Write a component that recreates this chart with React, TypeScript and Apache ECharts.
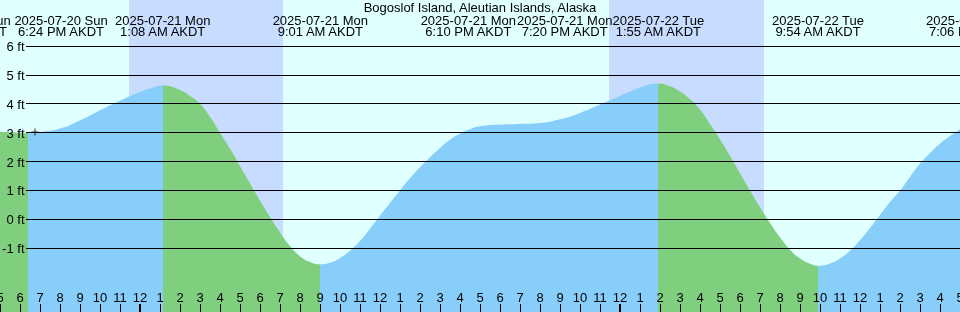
import { useEffect, useRef } from 'react';
import * as echarts from 'echarts';

// ---------- data ----------
const TITLE = 'Bogoslof Island, Aleutian Islands, Alaska';
const TZ = 'AKDT';
// x axis: hours after 2025-07-20 5:00 PM AKDT
const START_DAY = 20;
const START_CLOCK_HOUR = 17;
const SPAN_HOURS = 48;

// tide height samples (hours after start, feet)
const sampleHours = [
  0, 1, 1.4, 2, 3, 4, 5, 6, 7, 7.5, 8.13,
  8.5, 9, 9.5, 10, 10.5, 11, 11.5, 12, 12.5, 13, 13.5, 14, 14.5, 15, 15.5, 16.02,
  16.5, 17, 17.5, 18, 18.5, 19, 19.5, 20, 20.5, 21, 21.5, 22, 22.5, 23, 23.5, 24,
  25, 26, 27, 28, 29, 30, 30.5, 31, 31.5, 32, 32.5, 32.92,
  33.5, 34, 34.5, 35, 35.5, 36, 36.5, 37, 37.5, 38, 38.5, 39, 39.5, 40, 40.5, 40.9,
  41.5, 42, 42.5, 43, 43.5, 44, 44.5, 45, 45.5, 46, 46.5, 47, 47.5, 48,
];
const sampleFeet = [
  3.03, 3.0, 2.99, 3.02, 3.14, 3.42, 3.77, 4.1, 4.41, 4.53, 4.63,
  4.6, 4.47, 4.27, 4.0, 3.55, 3.0, 2.45, 1.85, 1.25, 0.65, 0.08, -0.45, -0.92, -1.27, -1.47, -1.55,
  -1.5, -1.33, -1.08, -0.75, -0.32, 0.13, 0.57, 1.0, 1.42, 1.8, 2.15, 2.47, 2.75, 2.97, 3.12, 3.22,
  3.28, 3.3, 3.33, 3.46, 3.68, 3.97, 4.12, 4.27, 4.42, 4.56, 4.66, 4.7,
  4.6, 4.42, 4.15, 3.8, 3.3, 2.77, 2.2, 1.6, 1.0, 0.42, -0.12, -0.62, -1.05, -1.35, -1.53, -1.6,
  -1.52, -1.35, -1.08, -0.72, -0.3, 0.15, 0.6, 1.0, 1.47, 1.93, 2.3, 2.62, 2.88, 3.12,
];

// events shown along the top
const eventDays = ['2025-07-20 Sun', '2025-07-20 Sun', '2025-07-21 Mon', '2025-07-21 Mon', '2025-07-21 Mon', '2025-07-21 Mon', '2025-07-22 Tue', '2025-07-22 Tue', '2025-07-22 Tue'];
const eventTimes = ['5:00 PM', '6:24 PM', '1:08 AM', '9:01 AM', '6:10 PM', '7:20 PM', '1:55 AM', '9:54 AM', '7:06 PM'];
const eventKinds = ['high', 'low', 'high', 'low', 'other', 'other', 'high', 'low', 'other'];

// night periods
const nightStartDays = ['2025-07-20 Sun', '2025-07-21 Mon'];
const nightStartTimes = ['11:27 PM', '11:27 PM'];
const nightEndDays = ['2025-07-21 Mon', '2025-07-22 Tue'];
const nightEndTimes = ['7:09 AM', '7:12 AM'];

// "now" mark
const markDay = '2025-07-20 Sun';
const markTime = '6:45 PM';
const markFeet = 3.02;

// horizontal reference levels (ft)
const feetLevels = [-1, 0, 1, 2, 3, 4, 5, 6];

// ---------- layout / style ----------
const Y_MIN = -3.2;
const Y_MAX = 7.585;
const LABEL_SHIFT = [-36, 33, 0, 0, -35, 38, 0, 0, -30];
const FONT = '"Liberation Sans", Arial, sans-serif';
const DAY_BG = '#e0ffff';
const NIGHT_BG = '#c8dcff';
const RISING = '#87cefa';
const FALLING = '#7fcf7f';

function toHour(day: string, time: string): number {
  const d = parseInt(day.slice(8, 10), 10);
  const m = time.match(/(\d+):(\d+) (AM|PM)/)!;
  let hh = parseInt(m[1], 10) % 12;
  if (m[3] === 'PM') hh += 12;
  return (d - START_DAY) * 24 + hh + parseInt(m[2], 10) / 60 - START_CLOCK_HOUR;
}

export default function App() {
  const ref = useRef<HTMLDivElement>(null);

  useEffect(() => {
    const chart = echarts.init(ref.current!, undefined, { renderer: 'svg' });

    const eventHours = eventDays.map((d, i) => toHour(d, eventTimes[i]));
    const extremes = eventHours
      .map((h, i) => ({ h, kind: eventKinds[i] }))
      .filter((e) => e.kind !== 'other' && e.h > 0 && e.h < SPAN_HOURS)
      .sort((a, b) => a.h - b.h);

    const pieces: any[] = [];
    const bounds = [0, ...extremes.map((e) => e.h), SPAN_HOURS];
    for (let i = 0; i < bounds.length - 1; i++) {
      let color;
      if (i < extremes.length) color = extremes[i].kind === 'low' ? FALLING : RISING;
      else color = extremes[extremes.length - 1].kind === 'high' ? FALLING : RISING;
      const p: any = { gte: bounds[i], color };
      if (i === bounds.length - 2) p.lte = bounds[i + 1];
      else p.lt = bounds[i + 1];
      pieces.push(p);
    }

    const nights = nightStartDays.map((d, i) => [
      { xAxis: toHour(d, nightStartTimes[i]) },
      { xAxis: toHour(nightEndDays[i], nightEndTimes[i]) },
    ]);

    const pxPerFt = 312 / (Y_MAX - Y_MIN);
    const midnights: number[] = [];
    for (let h = 0; h <= SPAN_HOURS; h++) if ((START_CLOCK_HOUR + h) % 24 === 0) midnights.push(h);

    const tideData = sampleHours.map((h, i) => [h, sampleFeet[i]]);

    chart.setOption({
      animation: false,
      grid: {
        left: 0, right: 0, top: 0, bottom: 0,
        containLabel: false,
        outerBoundsMode: 'none',
        show: true, backgroundColor: DAY_BG, borderWidth: 0,
      },
      xAxis: {
        type: 'value',
        min: 0,
        max: SPAN_HOURS,
        interval: 1,
        z: 10,
        axisLine: { show: false, onZero: false },
        splitLine: { show: false },
        axisTick: { show: true, inside: true, length: 8, lineStyle: { color: '#000', width: 1 } },
        axisLabel: {
          show: true,
          inside: true,
          margin: 15,
          verticalAlign: 'middle',
          color: '#000',
          fontSize: 13,
          fontFamily: FONT,
          showMinLabel: true,
          showMaxLabel: true,
          hideOverlap: false,
          formatter: (v: number) => String(((START_CLOCK_HOUR + v) % 12) || 12),
        },
      },
      yAxis: { type: 'value', min: Y_MIN, max: Y_MAX, show: false, splitLine: { show: false } },
      visualMap: { show: false, type: 'piecewise', dimension: 0, seriesIndex: 1, pieces },
      series: [
        {
          type: 'line',
          z: 1,
          data: tideData,
          symbol: 'none',
          silent: true,
          lineStyle: { opacity: 0, width: 0 },
          markArea: { silent: true, itemStyle: { color: NIGHT_BG }, data: nights },
          markLine: {
            silent: true,
            symbol: ['none', 'none'],
            label: { show: false },
            lineStyle: { color: '#000', width: 1, type: 'solid' },
            data: feetLevels.map((v) => [{ coord: [1.3, v] }, { coord: [SPAN_HOURS, v] }]),
          },
        },
        {
          type: 'line',
          z: 2,
          data: tideData,
          smooth: true,
          symbol: 'none',
          silent: true,
          lineStyle: { width: 0 },
          areaStyle: { opacity: 1, origin: 'start' },
        },
        {
          type: 'scatter',
          z: 3,
          silent: true,
          data: [[toHour(markDay, markTime), markFeet]],
          symbol: 'path://M0,3H7V4H0ZM3,0H4V7H3Z',
          symbolSize: 7,
          itemStyle: { color: '#000' },
          markLine: {
            silent: true,
            symbol: ['none', 'none'],
            label: { show: false },
            lineStyle: { color: '#000', width: 2, type: 'solid' },
            data: midnights.map((h) => [{ coord: [h, Y_MIN] }, { coord: [h, Y_MIN + 8 / pxPerFt] }]),
          },
        },
      ],
    });

    const px = (h: number, v: number) => chart.convertToPixel({ gridIndex: 0 }, [h, v]) as number[];
    const textStyle = { fill: '#000', fontSize: 13, fontFamily: FONT, lineHeight: 11 };
    const graphics: any[] = [];
    graphics.push({
      type: 'text',
      x: chart.getWidth() / 2,
      y: 7,
      z: 100,
      style: { ...textStyle, text: TITLE, align: 'center', verticalAlign: 'middle' },
    });
    eventHours.forEach((h, i) => {
      const [x] = px(h, 0);
      graphics.push({
        type: 'text',
        x: x + LABEL_SHIFT[i],
        y: 20,
        z: 100,
        style: { ...textStyle, text: eventDays[i], align: 'center', verticalAlign: 'middle' },
      });
      graphics.push({
        type: 'text',
        x: x + LABEL_SHIFT[i],
        y: 31,
        z: 100,
        style: { ...textStyle, text: `${eventTimes[i]} ${TZ}`, align: 'center', verticalAlign: 'middle' },
      });
    });
    feetLevels.forEach((v) => {
      const [, y] = px(0, v);
      graphics.push({
        type: 'text',
        x: 24.5,
        y: y + 0.5,
        z: 100,
        style: { ...textStyle, text: `${v} ft`, align: 'right', verticalAlign: 'middle' },
      });
    });
    chart.setOption({ graphic: graphics });

    return () => chart.dispose();
  }, []);

  return <div ref={ref} style={{ position: 'fixed', left: 0, top: 0, width: 960, height: 312 }} />;
}
